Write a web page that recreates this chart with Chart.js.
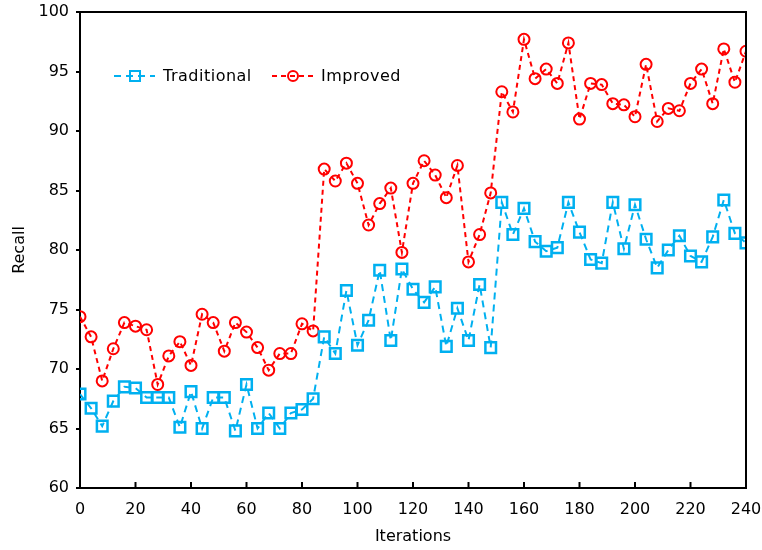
<!DOCTYPE html>
<html>
<head>
<meta charset="utf-8">
<script src="https://cdn.jsdelivr.net/npm/chart.js@4.4.0/dist/chart.umd.min.js"></script>
<style>
  html, body { margin: 0; padding: 0; background: #fff; }
  #wrap { width: 762px; height: 550px; }
</style>
</head>
<body>
<div id="wrap"><canvas id="recallChart" width="762" height="550"></canvas></div>
<script>
const iterations = [0, 4, 8, 12, 16, 20, 24, 28, 32, 36, 40, 44, 48, 52, 56, 60, 64, 68, 72, 76,
  80, 84, 88, 92, 96, 100, 104, 108, 112, 116, 120, 124, 128, 132, 136, 140, 144, 148, 152, 156,
  160, 164, 168, 172, 176, 180, 184, 188, 192, 196, 200, 204, 208, 212, 216, 220, 224, 228, 232, 236, 240];

const traditional = [67.9, 66.7, 65.2, 67.3, 68.5, 68.4, 67.6, 67.6, 67.6, 65.1, 68.1, 65.0, 67.6, 67.6, 64.8, 68.7, 65.0, 66.3, 65.0, 66.3,
  66.6, 67.5, 72.7, 71.3, 76.6, 72.0, 74.1, 78.3, 72.4, 78.4, 76.7, 75.6, 76.9, 71.9, 75.1, 72.4, 77.1, 71.8, 84.0, 81.3,
  83.5, 80.7, 79.9, 80.2, 84.0, 81.5, 79.2, 78.9, 84.0, 80.1, 83.8, 80.9, 78.5, 80.0, 81.2, 79.5, 79.0, 81.1, 84.2, 81.4, 80.6];

const improved = [74.4, 72.7, 69.0, 71.7, 73.9, 73.6, 73.3, 68.7, 71.1, 72.3, 70.3, 74.6, 73.9, 71.5, 73.9, 73.1, 71.8, 69.9, 71.3, 71.3,
  73.8, 73.2, 86.8, 85.8, 87.3, 85.6, 82.1, 83.9, 85.2, 79.8, 85.6, 87.5, 86.3, 84.4, 87.1, 79.0, 81.3, 84.8, 93.3, 91.6,
  97.7, 94.4, 95.2, 94.0, 97.4, 91.0, 94.0, 93.9, 92.3, 92.2, 91.2, 95.6, 90.8, 91.9, 91.7, 94.0, 95.2, 92.3, 96.9, 94.1, 96.7];

const xTicks = [0, 20, 40, 60, 80, 100, 120, 140, 160, 180, 200, 220, 240];

const blue = '#00b0f0';
const red = '#ff0000';
const font = 'DejaVu Sans, Verdana, sans-serif';

function toPoints(values) {
  return iterations.map((it, i) => ({ x: it, y: values[i] }));
}

// frame on top/right, inner x ticks, legend inside the plot
const framePlugin = {
  id: 'frame',
  afterDraw(chart) {
    const ctx = chart.ctx;
    const a = chart.chartArea;
    const xs = chart.scales.x;
    ctx.save();
    ctx.strokeStyle = '#000';
    ctx.lineWidth = 2;
    ctx.beginPath();
    ctx.moveTo(a.left, a.top);
    ctx.lineTo(a.right, a.top);
    ctx.lineTo(a.right, a.bottom);
    ctx.stroke();
    xTicks.forEach(t => {
      if (t === 0 || t === 240) return;
      const px = xs.getPixelForValue(t);
      ctx.beginPath();
      ctx.moveTo(px, a.bottom);
      ctx.lineTo(px, a.bottom - 6);
      ctx.stroke();
    });

    // legend
    const ly = 76;
    const items = [
      { x: 114, color: blue, dash: [7, 5], style: 'rect', text: 'Traditional' },
      { x: 272, color: red, dash: [5, 4], style: 'circle', text: 'Improved' }
    ];
    items.forEach(it => {
      ctx.strokeStyle = it.color;
      ctx.lineWidth = 2;
      ctx.setLineDash(it.dash);
      ctx.beginPath();
      ctx.moveTo(it.x, ly);
      ctx.lineTo(it.x + 41, ly);
      ctx.stroke();
      ctx.setLineDash([]);
      const cx = it.x + 21;
      ctx.beginPath();
      if (it.style === 'rect') {
        ctx.rect(cx - 5, ly - 5, 10, 10);
      } else {
        ctx.arc(cx, ly, 5, 0, Math.PI * 2);
      }
      ctx.stroke();
      ctx.fillStyle = '#000';
      ctx.font = '16px ' + font;
      ctx.letterSpacing = '0.5px';
      ctx.textBaseline = 'middle';
      ctx.fillText(it.text, it.x + 49, ly + 1);
    });
    ctx.restore();
  }
};

new Chart(document.getElementById('recallChart'), {
  type: 'line',
  data: {
    datasets: [{
      label: 'Traditional',
      data: toPoints(traditional),
      borderColor: blue,
      backgroundColor: 'transparent',
      borderWidth: 2,
      borderDash: [7, 5],
      pointStyle: 'rect',
      pointRadius: 7.5,
      pointBorderWidth: 2.5,
      pointBorderColor: blue,
      pointBackgroundColor: 'transparent',
      tension: 0
    }, {
      label: 'Improved',
      data: toPoints(improved),
      borderColor: red,
      backgroundColor: 'transparent',
      borderWidth: 2,
      borderDash: [5, 4],
      pointStyle: 'circle',
      pointRadius: 5.5,
      pointBorderWidth: 2,
      pointBorderColor: red,
      pointBackgroundColor: 'transparent',
      tension: 0
    }]
  },
  options: {
    responsive: false,
    animation: false,
    layout: { padding: { top: 12, right: 16, left: 0, bottom: 0 } },
    plugins: {
      legend: { display: false },
      tooltip: { enabled: false }
    },
    scales: {
      x: {
        type: 'linear',
        min: 0,
        max: 240,
        afterFit: scale => { scale.height = 62; scale.paddingLeft = 0; scale.paddingRight = 0; },
        afterBuildTicks: scale => { scale.ticks = xTicks.map(v => ({ value: v })); },
        grid: { display: true, drawOnChartArea: false, drawTicks: false, color: 'transparent' },
        border: { display: true, color: '#000', width: 2 },
        ticks: { color: '#000', font: { family: font, size: 16 }, padding: 12, maxRotation: 0 },
        title: { display: true, text: 'Iterations', color: '#000', font: { family: font, size: 16 }, padding: { top: 4, bottom: 4 } }
      },
      y: {
        min: 60,
        max: 100,
        afterFit: scale => { scale.width = 80; scale.paddingTop = 0; scale.paddingBottom = 0; },
        grid: { display: true, drawOnChartArea: false, drawTicks: true, tickLength: 4, color: '#000', lineWidth: 2 },
        border: { display: true, color: '#000', width: 2 },
        ticks: { stepSize: 5, color: '#000', font: { family: font, size: 16 }, padding: 7 },
        title: { display: true, text: 'Recall', color: '#000', font: { family: font, size: 16 }, padding: { top: 10, bottom: 4 } }
      }
    }
  },
  plugins: [framePlugin]
});
</script>
</body>
</html>
